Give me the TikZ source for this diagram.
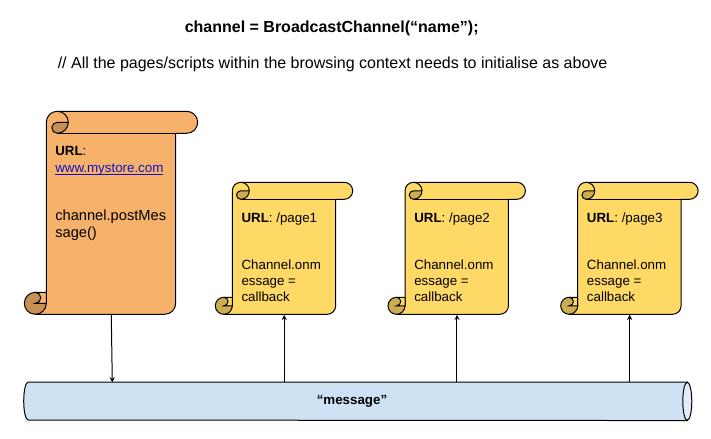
\documentclass[tikz,border=0pt]{standalone}
\usepackage{fontspec}
\setmainfont{Liberation Sans}
\usetikzlibrary{arrows}
\definecolor{storeorange}{HTML}{F6B26B}
\definecolor{storedark}{HTML}{C58F56}
\definecolor{pageyellow}{HTML}{FFD966}
\definecolor{pagedark}{HTML}{CCAE52}
\definecolor{busblue}{HTML}{CFE2F3}
\definecolor{busend}{HTML}{E2EDF8}
\definecolor{linkblue}{HTML}{1111CC}
\tikzset{
	scrollline/.style={line width=.75pt,black},
	scrolltext/.style={anchor=north west,inner sep=0pt,align=left,font=\fontsize{10}{11.8}\selectfont},
	link/.style={line width=.75pt,-stealth},
}
\newcommand{\linkunder}[1]{\setbox0=\hbox{#1}\rlap{#1}\rule[-1.6pt]{\wd0}{.55pt}}
% name, left, top, right of body, bottom, radius, fill, curl fill
\newcommand{\scrollbox}[8]{
	\draw [scrollline,fill=#7] (#2,#3-#6) arc [start angle=180,end angle=90,radius=#6]
		-- (#4+#6,#3) arc [start angle=90,end angle=-90,radius=#6]
		-- (#4,#3-2*#6) -- (#4,#5+#6) arc [start angle=0,end angle=-90,radius=#6]
		-- (#2-#6,#5) -- (#2-#6,#5+#6) -- (#2,#5+#6) -- cycle;
	\draw [scrollline] (#2+#6,#3-2*#6) -- (#4,#3-2*#6);
	\draw [scrollline] (#2+#6,#3) arc [start angle=90,end angle=0,radius=#6];
	\draw [scrollline,fill=#8] (#2+2*#6,#3-#6) arc [start angle=0,end angle=-90,radius=#6]
		arc [start angle=-90,end angle=-270,radius=#6/2] -- cycle;
	\draw [scrollline,fill=#8] (#2-#6,#5+#6) circle [radius=#6];
	\draw [scrollline,fill=#7] (#2-#6,#5+2*#6) -- (#2,#5+2*#6) -- (#2,#5+#6) -- (#2-#6,#5+#6)
		arc [start angle=-90,end angle=90,radius=#6/2];
	\node [inner sep=0pt,minimum width={(#4-#2)*.75pt},minimum height={(#3-#5)*.75pt},anchor=north west] (#1) at (#2,#3) {};
}
\begin{document}
\begin{tikzpicture}[x=.75pt,y=.75pt]
	\useasboundingbox (0,0) rectangle (711,439);
	\node [anchor=west,inner sep=0pt,font=\fontsize{12}{14}\selectfont\bfseries] (title) at (184.5,411) {channel = BroadcastChannel(“name”);};
	\node [anchor=west,inner sep=0pt,font=\fontsize{12}{14}\selectfont] (note) at (57.5,375) {// All the pages/scripts within the browsing context needs to initialise as above};

	\scrollbox{store}{46.3}{327.7}{175.7}{124.7}{11}{storeorange}{storedark}
	\scrollbox{page1}{232.3}{256.7}{335.7}{124.7}{8.5}{pageyellow}{pagedark}
	\scrollbox{page2}{405}{256.7}{508.4}{124.7}{8.5}{pageyellow}{pagedark}
	\scrollbox{page3}{577.7}{256.7}{681.1}{124.7}{8.5}{pageyellow}{pagedark}

	\node [scrolltext,font=\fontsize{10}{12.75}\selectfont] (storetext) at (55,292.5) {\textbf{URL}:\\\textcolor{linkblue}{\linkunder{www.mystore.com}}};
	\node [scrolltext,font=\fontsize{11}{12.4}\selectfont] (storecall) at (55,229) {channel.postMes\\sage()};
	\node [scrolltext] (page1text) at (241.3,226.5) {\textbf{URL}: /page1\\[23.6pt]Channel.onm\\essage =\\callback};
	\node [scrolltext] (page2text) at (414,226.5) {\textbf{URL}: /page2\\[23.6pt]Channel.onm\\essage =\\callback};
	\node [scrolltext] (page3text) at (586.7,226.5) {\textbf{URL}: /page3\\[23.6pt]Channel.onm\\essage =\\callback};

	\node [inner sep=0pt,minimum width=493.9pt,minimum height=28.5pt] (bus) at (357.75,37.7) {};
	\draw [scrollline,fill=busblue] (bus.north east) -- (bus.north west)
		arc [start angle=90,end angle=270,x radius=4.5,y radius=19] -- (bus.south east) -- cycle;
	\draw [scrollline,fill=busend] (bus.east) ellipse [x radius=4.5,y radius=19];
	\node [inner sep=0pt,font=\fontsize{10}{12}\selectfont\bfseries] (buslabel) at (352,37.5) {“message”};
	\coordinate (busin) at (112.3,56.7);

	\draw [link] (store.south) -- (busin);
	\draw [link] (bus.north -| page1.south) -- (page1.south);
	\draw [link] (bus.north -| page2.south) -- (page2.south);
	\draw [link] (bus.north -| page3.south) -- (page3.south);
\end{tikzpicture}
\end{document}
